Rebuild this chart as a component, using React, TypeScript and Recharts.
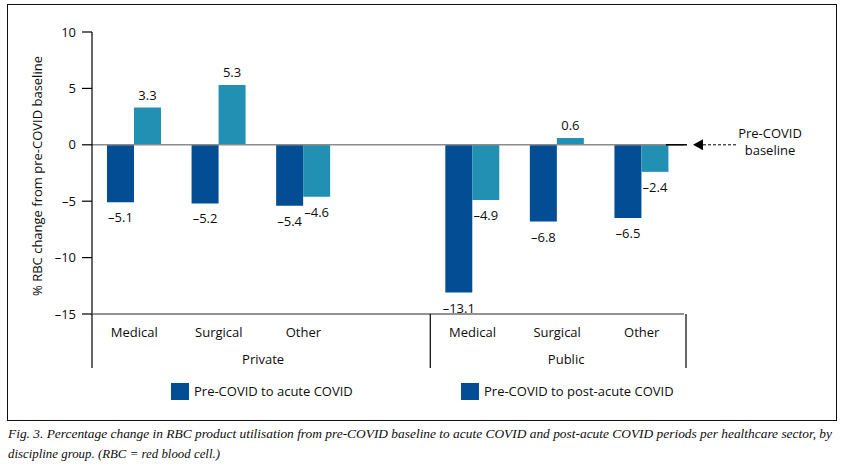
import React from 'react';
import { BarChart, Bar, XAxis, YAxis, ReferenceLine, LabelList } from 'recharts';

const categories = ['Medical', 'Surgical', 'Other', '', 'Medical', 'Surgical', 'Other'];
const groups = ['Private', 'Private', 'Private', 'Private', 'Public', 'Public', 'Public'];
const acuteValues = [-5.1, -5.2, -5.4, null, -13.1, -6.8, -6.5];
const postAcuteValues = [3.3, 5.3, -4.6, null, -4.9, 0.6, -2.4];
const yTicks = [-15, -10, -5, 0, 5, 10];
const seriesNames = ['Pre-COVID to acute COVID', 'Pre-COVID to post-acute COVID'];
const yAxisTitle = '% RBC change from pre-COVID baseline';
const baselineText = ['Pre-COVID', 'baseline'];
const captionLines = [
  'Fig. 3. Percentage change in RBC product utilisation from pre-COVID baseline to acute COVID and post-acute COVID periods per healthcare sector, by',
  'discipline group. (RBC = red blood cell.)',
];

const data = categories.map((c, i) => ({
  id: i,
  cat: c,
  group: groups[i],
  acute: acuteValues[i],
  post: postAcuteValues[i],
}));

const DARK = '#034d95';
const TEAL = '#2190b3';
const INK = '#0d0d0d';
const FONT = '"Open Sans", "Noto Sans", sans-serif';

const CHART_W = 848;
const CHART_H = 420;
const M_LEFT = 32;
const Y_W = 60;
const M_RIGHT = 164;
const M_TOP = 32;
const X1_H = 26;
const X2_H = 30;
const M_BOTTOM = CHART_H - 314 - X1_H - X2_H;
const PLOT_W = CHART_W - M_LEFT - Y_W - M_RIGHT;
const BAND = PLOT_W / data.length;

const fmt = (v: number) => (v < 0 ? '\u2013' + Math.abs(v) : String(v));

const CatTick = (props: any) => {
  const { x, y, payload } = props;
  return (
    <text x={x} y={y + 18} textAnchor="middle" dominantBaseline="central" fontFamily={FONT} fontSize={13} fill={INK}>
      {categories[payload.value]}
    </text>
  );
};

const GroupTick = (props: any) => {
  const { x, y, payload } = props;
  const idx = payload.value as number;
  const els: any[] = [];
  const isStart = idx === 0 || groups[idx] !== groups[idx - 1];
  const isEnd = idx === groups.length - 1;
  if (isStart) {
    const n = groups.filter((g) => g === groups[idx]).length;
    const lx = x - BAND / 2;
    els.push(<line key="s" x1={lx} x2={lx} y1={y - X1_H} y2={y + 28} stroke="#000" strokeWidth={1.2} />);
    const cx = x + ((n - 1) / 2) * BAND + (groups[idx] === 'Public' ? 9 : 2);
    els.push(
      <text key="t" x={cx} y={y + 19} textAnchor="middle" dominantBaseline="central" fontFamily={FONT} fontSize={13} fill={INK}>
        {groups[idx]}
      </text>
    );
  }
  if (isEnd) {
    const rx = x + BAND / 2 + 2;
    els.push(<line key="e" x1={rx} x2={rx} y1={y - X1_H} y2={y + 28} stroke="#000" strokeWidth={1.2} />);
  }
  return <g>{els}</g>;
};

const ValueLabel = (props: any) => {
  const { x, y, width, height, value } = props;
  if (value === null || value === undefined) return null;
  const top = Math.min(y, y + height);
  const bottom = Math.max(y, y + height);
  const cx = x + width / 2;
  const cy = value >= 0 ? top - 13 : bottom + 15;
  return (
    <text x={cx} y={cy} textAnchor="middle" dominantBaseline="central" fontFamily={FONT} fontSize={13} fill={INK}>
      {fmt(value)}
    </text>
  );
};

const YTitle = (props: any) => {
  const vb = props.viewBox || {};
  const cx = (vb.x ?? M_LEFT) + 5;
  const cy = (vb.y ?? M_TOP) + (vb.height ?? 282) / 2 + 3;
  return (
    <text x={cx} y={cy} transform={`rotate(-90 ${cx} ${cy})`} textAnchor="middle" dominantBaseline="central" fontFamily={FONT} fontSize={13} fill={INK}>
      {yAxisTitle}
    </text>
  );
};

const BaselineNote = (props: any) => {
  const vb = props.viewBox || {};
  const r = vb.x + vb.width;
  const y0 = vb.y;
  return (
    <g>
      <line x1={r - 18} x2={r + 3} y1={y0} y2={y0} stroke="#000" strokeWidth={1.5} />
      <polygon points={`${r + 9},${y0} ${r + 19},${y0 - 5.5} ${r + 19},${y0 + 5.5}`} fill="#000" />
      <line x1={r + 19} x2={r + 53} y1={y0} y2={y0} stroke="#000" strokeWidth={1} strokeDasharray="3 2" />
      <text x={r + 86} y={y0 - 12} textAnchor="middle" dominantBaseline="central" fontFamily={FONT} fontSize={13} fill={INK}>
        {baselineText[0]}
      </text>
      <text x={r + 86} y={y0 + 5} textAnchor="middle" dominantBaseline="central" fontFamily={FONT} fontSize={13} fill={INK}>
        {baselineText[1]}
      </text>
    </g>
  );
};

export default function App() {
  return (
    <div style={{ position: 'absolute', left: 0, top: 0, width: 848, height: 466, background: '#fff', fontFamily: FONT }}>
      <div style={{ position: 'absolute', left: 7, top: 4, width: 828, height: 415, border: '1.5px solid #111' }} />
      <div style={{ position: 'absolute', left: 0, top: 0 }}>
        <BarChart
          width={CHART_W}
          height={CHART_H}
          data={data}
          margin={{ top: M_TOP, right: M_RIGHT, bottom: M_BOTTOM, left: M_LEFT }}
          barGap={0}
          barSize={27}
        >
          <YAxis
            type="number"
            domain={[-15, 10]}
            ticks={yTicks}
            interval={0}
            width={Y_W}
            tickFormatter={fmt}
            tickSize={10}
            tickMargin={6}
            axisLine={{ stroke: '#000', strokeWidth: 1.2 }}
            tickLine={{ stroke: '#000', strokeWidth: 1.2 }}
            tick={{ fill: INK, fontSize: 13, fontFamily: FONT }}
            label={<YTitle />}
          />
          <XAxis
            xAxisId={0}
            dataKey="id"
            type="category"
            height={X1_H}
            interval={0}
            tickSize={0}
            tickMargin={0}
            tickLine={false}
            axisLine={{ stroke: '#6e6e6e', strokeWidth: 1.5 }}
            tick={<CatTick />}
          />
          <XAxis
            xAxisId="grp"
            dataKey="id"
            type="category"
            height={X2_H}
            interval={0}
            tickSize={0}
            tickMargin={0}
            tickLine={false}
            axisLine={false}
            tick={<GroupTick />}
          />
          <ReferenceLine y={0} stroke="#8c8c8c" strokeWidth={1.5} label={<BaselineNote />} />
          <Bar dataKey="acute" name={seriesNames[0]} fill={DARK} isAnimationActive={false}>
            <LabelList dataKey="acute" content={<ValueLabel />} />
          </Bar>
          <Bar dataKey="post" name={seriesNames[1]} fill={TEAL} isAnimationActive={false}>
            <LabelList dataKey="post" content={<ValueLabel />} />
          </Bar>
        </BarChart>
      </div>
      <div style={{ position: 'absolute', left: 171, top: 382, display: 'flex', alignItems: 'center', fontSize: 13, color: INK, whiteSpace: 'nowrap' }}>
        <span style={{ display: 'inline-block', width: 18, height: 17, background: DARK, marginRight: 5 }} />
        <span>{seriesNames[0]}</span>
      </div>
      <div style={{ position: 'absolute', left: 461, top: 382, display: 'flex', alignItems: 'center', fontSize: 13, color: INK, whiteSpace: 'nowrap' }}>
        <span style={{ display: 'inline-block', width: 18, height: 17, background: DARK, marginRight: 5 }} />
        <span>{seriesNames[1]}</span>
      </div>
      <svg style={{ position: 'absolute', left: 0, top: 422 }} width={848} height={44}>
        <text x={8} y={16} textLength={824} lengthAdjust="spacingAndGlyphs" fontFamily='"Liberation Serif", "DejaVu Serif", serif' fontStyle="italic" fontSize={13.5} fill={INK}>
          {captionLines[0]}
        </text>
        <text x={8} y={36} textLength={212} lengthAdjust="spacingAndGlyphs" fontFamily='"Liberation Serif", "DejaVu Serif", serif' fontStyle="italic" fontSize={13.5} fill={INK}>
          {captionLines[1]}
        </text>
      </svg>
    </div>
  );
}
